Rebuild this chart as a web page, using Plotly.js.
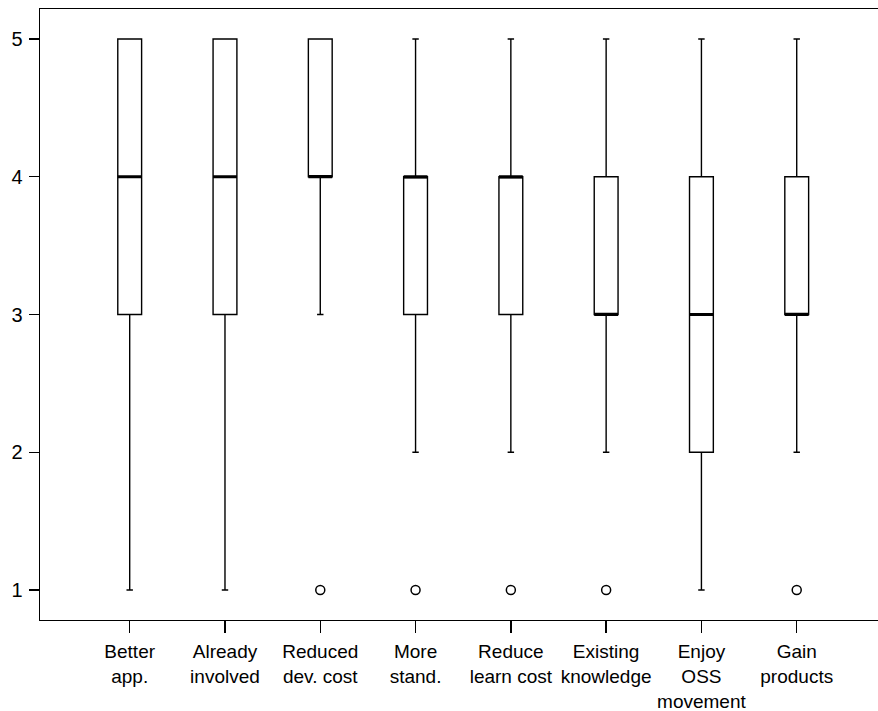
<!DOCTYPE html>
<html>
<head>
<meta charset="utf-8">
<script src="https://cdn.plot.ly/plotly-3.0.1.min.js"></script>
<style>html,body{margin:0;padding:0;background:#fff;}#chart{width:878px;height:711px;}</style>
</head>
<body>
<div id="chart"></div>
<script>
const categories = ["Better<br>app.", "Already<br>involved", "Reduced<br>dev. cost", "More<br>stand.", "Reduce<br>learn cost", "Existing<br>knowledge", "Enjoy<br>OSS<br>movement", "Gain<br>products"];
const lowerWhisker = [1, 1, 3, 2, 2, 2, 1, 2];
const q1 = [3, 3, 4, 3, 3, 3, 2, 3];
const median = [4, 4, 4, 4, 4, 3, 3, 3];
const q3 = [5, 5, 5, 4, 4, 4, 4, 4];
const upperWhisker = [5, 5, 5, 5, 5, 5, 5, 5];
const outliers = [[], [], [1], [1], [1], [1], [], [1]];
const yTicks = [1, 2, 3, 4, 5];

const positions = categories.map((_, i) => i + 1);
const boxWidth = 0.25;

const boxTrace = {
  type: 'box',
  x: positions,
  q1: q1,
  median: median,
  q3: q3,
  lowerfence: lowerWhisker,
  upperfence: upperWhisker,
  width: boxWidth,
  whiskerwidth: 0.27,
  fillcolor: '#ffffff',
  line: {color: '#000000', width: 1.4},
  boxpoints: false,
  hoverinfo: 'skip',
  showlegend: false
};

const medX = [], medY = [];
positions.forEach((p, i) => {
  medX.push(p - boxWidth / 2, p + boxWidth / 2, null);
  medY.push(median[i], median[i], null);
});
const medianTrace = {
  type: 'scatter', mode: 'lines', x: medX, y: medY,
  line: {color: '#000000', width: 3}, hoverinfo: 'skip', showlegend: false
};

const outX = [], outY = [];
outliers.forEach((arr, i) => arr.forEach(v => { outX.push(positions[i]); outY.push(v); }));
const outlierTrace = {
  type: 'scatter', mode: 'markers', x: outX, y: outY,
  marker: {symbol: 'circle-open', size: 9, color: '#000000', line: {width: 1.5, color: '#000000'}},
  hoverinfo: 'skip', showlegend: false
};

const fam = '"Liberation Sans", Arial, Helvetica, sans-serif';
const xFont = {family: fam, size: 19, color: '#000000'};
const yFont = {family: fam, size: 20, color: '#000000'};

const layout = {
  width: 878, height: 711,
  margin: {l: 40, r: 0, t: 9, b: 91, pad: 0},
  paper_bgcolor: '#ffffff', plot_bgcolor: '#ffffff',
  font: xFont,
  showlegend: false,
  xaxis: {
    range: [0.0587, 8.853],
    tickvals: positions, ticktext: categories,
    showgrid: false, zeroline: false,
    showline: true, linecolor: '#000000', linewidth: 1.3, mirror: true,
    ticks: 'outside', ticklen: 12, tickwidth: 1.3, tickcolor: '#000000',
    ticklabelstandoff: 2,
    tickfont: xFont, tickangle: 0
  },
  yaxis: {
    range: [0.7822, 5.2178],
    tickvals: yTicks, ticktext: yTicks.map(String),
    showgrid: false, zeroline: false,
    showline: true, linecolor: '#000000', linewidth: 1.3, mirror: false,
    ticks: 'outside', ticklen: 10, tickwidth: 1.3, tickcolor: '#000000',
    ticklabelstandoff: 2,
    tickfont: yFont
  }
};

Plotly.newPlot('chart', [boxTrace, medianTrace, outlierTrace], layout, {displayModeBar: false, staticPlot: true});
</script>
</body>
</html>
